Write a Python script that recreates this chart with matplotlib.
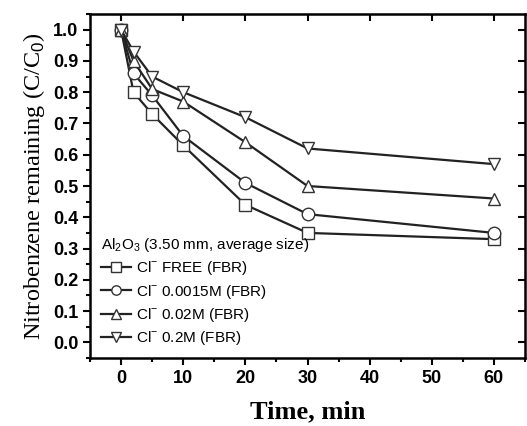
import matplotlib
matplotlib.use('Agg')
import matplotlib.pyplot as plt
from matplotlib.ticker import MultipleLocator

# data
time_min = [0, 2, 5, 10, 20, 30, 60]
cl_free = [1.0, 0.80, 0.73, 0.63, 0.44, 0.35, 0.33]
cl_0015 = [1.0, 0.86, 0.79, 0.66, 0.51, 0.41, 0.35]
cl_002 = [1.0, 0.90, 0.81, 0.77, 0.64, 0.50, 0.46]
cl_02 = [1.0, 0.93, 0.85, 0.80, 0.72, 0.62, 0.57]

SERIES = [
    (cl_free, 's', 'Cl$^{-}$ FREE (FBR)'),
    (cl_0015, 'o', 'Cl$^{-}$ 0.0015M (FBR)'),
    (cl_002, '^', 'Cl$^{-}$ 0.02M (FBR)'),
    (cl_02, 'v', 'Cl$^{-}$ 0.2M (FBR)'),
]

plt.rcParams['font.family'] = 'Liberation Sans'
plt.rcParams['mathtext.fontset'] = 'custom'
plt.rcParams['mathtext.rm'] = 'Liberation Sans'

fig = plt.figure(figsize=(5.27, 4.26), dpi=100)
ax = fig.add_axes([90 / 527, 1 - 358 / 426, 435 / 527, 344 / 426])

for vals, mk, lab in SERIES:
    ax.plot(time_min, vals, color='#222222', lw=1.6, marker=mk, ms=9,
            mfc='white', mec='#333333', mew=1.0, label=lab)

ax.set_xlim(-5, 65)
ax.set_ylim(-0.05, 1.05)
ax.xaxis.set_major_locator(MultipleLocator(10))
ax.xaxis.set_minor_locator(MultipleLocator(5))
ax.yaxis.set_minor_locator(MultipleLocator(0.05))
ax.set_yticks([i / 10 for i in range(11)])
ax.set_yticklabels([f'{i / 10:.1f}' for i in range(11)])

ax.tick_params(axis='both', which='both', direction='out', width=1.5,
               labelsize=13)
ax.tick_params(which='major', length=5)
ax.tick_params(which='minor', length=3)
for lab in ax.get_xticklabels() + ax.get_yticklabels():
    lab.set_fontweight('bold')
for sp in ax.spines.values():
    sp.set_linewidth(1.8)

# top/right ticks point inward
sec_x = ax.secondary_xaxis('top')
sec_x.set_xticks(range(0, 61, 10))
sec_x.tick_params(direction='in', length=5, width=1.5, labeltop=False)
sec_y = ax.secondary_yaxis('right')
sec_y.set_yticks([i / 10 for i in range(11)])
sec_y.tick_params(direction='in', length=5, width=1.5, labelright=False)

ax.set_ylabel('Nitrobenzene remaining (C/C$_0$)', family='Liberation Serif',
              fontsize=17.5, labelpad=4)
ax.set_xlabel('Time, min', family='Liberation Serif', fontsize=19,
              fontweight='bold', labelpad=10)

leg = ax.legend(loc='lower left', frameon=False, fontsize=11,
                title='Al$_2$O$_3$ (3.50 mm, average size)', title_fontsize=11,
                handlelength=2.0, handletextpad=0.3, labelspacing=0.35,
                borderaxespad=0.3, alignment='left', markerscale=0.75)

fig.savefig('out.png', dpi=100)
